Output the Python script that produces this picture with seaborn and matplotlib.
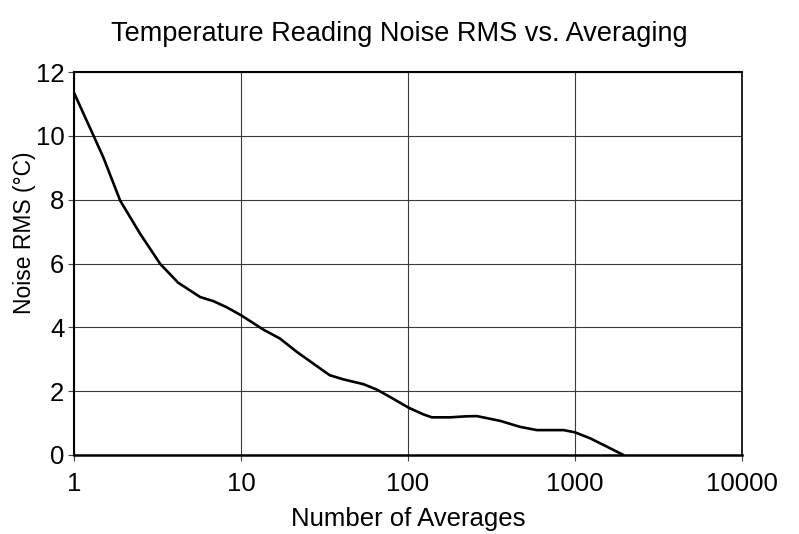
import numpy as np
import pandas as pd
import matplotlib
matplotlib.use("Agg")
import matplotlib.pyplot as plt
from matplotlib.ticker import FixedLocator, FixedFormatter, NullLocator
import seaborn as sns

# values
averages = [1, 1.31, 1.5, 1.89, 2.49, 3.28, 4.2, 5.69, 6.84, 8.2, 10, 13.6,
            17.1, 21.6, 29.8, 34, 41, 54, 65, 78, 101, 124, 139, 179, 220,
            258, 356, 470, 592, 855, 1000, 1236, 1555, 1950]
noise_rms = [11.35, 10.0, 9.32, 7.97, 6.93, 5.99, 5.4, 4.95, 4.82, 4.63, 4.38,
             3.93, 3.65, 3.23, 2.71, 2.5, 2.37, 2.22, 2.05, 1.82, 1.48, 1.27,
             1.18, 1.18, 1.21, 1.22, 1.07, 0.88, 0.78, 0.78, 0.71, 0.52, 0.26,
             0.0]
x_ticks = [1, 10, 100, 1000, 10000]
x_labels = ["1", "10", "100", "1000", "10000"]
y_ticks = [0, 2, 4, 6, 8, 10, 12]

df = pd.DataFrame({"averages": averages, "noise": noise_rms})

sns.set_style("white", {"text.color": "black", "axes.labelcolor": "black",
                        "xtick.color": "black", "ytick.color": "black"})
plt.rcParams["font.family"] = ["Liberation Sans", "DejaVu Sans"]

fig = plt.figure(figsize=(7.99, 5.34), dpi=100)
ax = fig.add_axes([74 / 799, 1 - 455 / 534, (742 - 74) / 799, (455 - 72) / 534])

sns.lineplot(data=df, x="averages", y="noise", color="black", linewidth=1.9, ax=ax)

ax.set_xscale("log")
ax.set_xlim(1, 10000)
ax.set_ylim(0, 12)
ax.xaxis.set_major_locator(FixedLocator(x_ticks))
ax.xaxis.set_major_formatter(FixedFormatter(x_labels))
ax.xaxis.set_minor_locator(NullLocator())
ax.set_yticks(y_ticks)

ax.grid(True, color="#3a3a3a", linewidth=0.8)
ax.set_axisbelow(True)
for s in ax.spines.values():
    s.set_color("black")
    s.set_linewidth(1.2)
ax.spines["bottom"].set_linewidth(1.8)
ax.spines["left"].set_linewidth(1.5)
ax.spines["top"].set_linewidth(1.5)

ax.tick_params(axis="both", direction="out", length=4, width=0.8, color="#444444",
               labelcolor="black", labelsize=18.5, bottom=True, left=True)
ax.tick_params(axis="x", pad=8)
ax.tick_params(axis="y", pad=3)

ax.set_xlabel("Number of Averages", fontsize=18.5, labelpad=8, color="black")
ax.set_ylabel("Noise RMS (°C)", fontsize=16.5, color="black")
ax.yaxis.set_label_coords(-0.057, 0.58)
fig.suptitle("Temperature Reading Noise RMS vs. Averaging", fontsize=19.5, y=0.96,
             color="black")

fig.savefig("out.png", dpi=100)
